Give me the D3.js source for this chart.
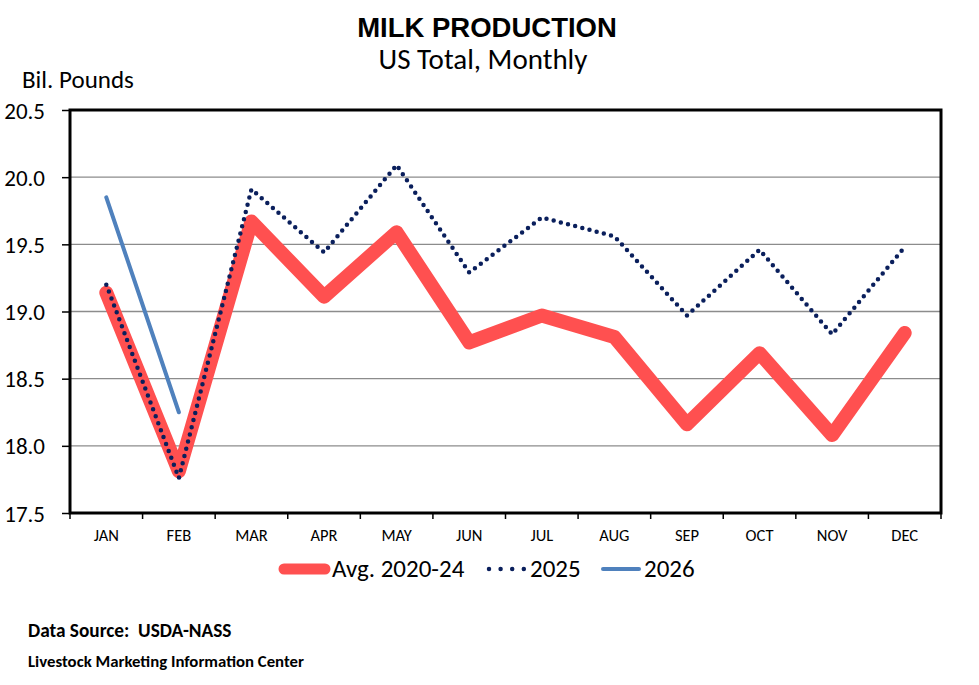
<!DOCTYPE html>
<html><head><meta charset="utf-8">
<script src="https://cdn.jsdelivr.net/npm/d3@7/dist/d3.min.js"></script>
<style>body{margin:0;background:#fff;}svg{display:block;}</style>
</head><body>
<svg id="c" width="979" height="685"></svg>
<script>
const months = ["JAN","FEB","MAR","APR","MAY","JUN","JUL","AUG","SEP","OCT","NOV","DEC"];
const avg2020_24 = [19.14,17.81,19.67,19.11,19.59,18.77,18.97,18.81,18.16,18.69,18.08,18.84];
const y2025 = [19.20,17.76,19.91,19.44,20.09,19.29,19.70,19.56,18.97,19.46,18.83,19.48];
const y2026 = [19.85,18.25];
const yTicks = [17.5,18.0,18.5,19.0,19.5,20.0,20.5];

const svg = d3.select("#c");
const L=70,R=941,T=110,B=513;
const x = d3.scaleBand().domain(months).range([L,R]);
const y = d3.scaleLinear().domain([17.5,20.5]).range([B,T]);
const cx = m => x(m)+x.bandwidth()/2;
const body = "Carlito, Calibri, Lato, 'Open Sans', sans-serif";

// gridlines
svg.append("g").selectAll("line").data(yTicks.slice(1,-1)).join("line")
  .attr("x1",L).attr("x2",R).attr("y1",d=>y(d)).attr("y2",d=>y(d))
  .attr("stroke","#8c8c8c").attr("stroke-width",1.3);

// axes
const yAxis = d3.axisLeft(y).tickValues(yTicks).tickFormat(d3.format(".1f")).tickSize(8).tickPadding(17);
const gy = svg.append("g").attr("transform",`translate(${L},0)`).call(yAxis);
gy.select(".domain").remove();
gy.selectAll(".tick line").attr("stroke","#000").attr("stroke-width",1.5);
gy.selectAll(".tick text").attr("font-family",body).attr("font-size",23).attr("fill","#000").attr("dy","0.35em");

const xAxis = d3.axisBottom(x).tickSize(0).tickPadding(16);
const gx = svg.append("g").attr("transform",`translate(0,${B})`).call(xAxis);
gx.select(".domain").remove();
gx.selectAll(".tick text").attr("font-family",body).attr("font-size",16.5).attr("fill","#000");
// band edge ticks
svg.append("g").selectAll("line").data(months.concat(["_end"])).join("line")
  .attr("x1",(d,i)=>i<12?x(d):R).attr("x2",(d,i)=>i<12?x(d):R)
  .attr("y1",B).attr("y2",B+6).attr("stroke","#000").attr("stroke-width",1.5);

// plot frame
svg.append("rect").attr("x",L).attr("y",T).attr("width",R-L).attr("height",B-T)
  .attr("fill","none").attr("stroke","#000").attr("stroke-width",3);

const line = d3.line().x((d,i)=>cx(months[i])).y(d=>y(d));

svg.append("path").datum(avg2020_24).attr("d",line).attr("fill","none")
  .attr("stroke","#FF5050").attr("stroke-width",14).attr("stroke-linejoin","round").attr("stroke-linecap","round");
svg.append("path").datum(y2025).attr("d",line).attr("fill","none")
  .attr("stroke","#0a1f5c").attr("stroke-width",4.5).attr("stroke-dasharray","0 7.4").attr("stroke-linecap","round");
svg.append("path").datum(y2026).attr("d",line).attr("fill","none")
  .attr("stroke","#4F81BD").attr("stroke-width",4).attr("stroke-linecap","round");

// titles
svg.append("text").attr("x",487).attr("y",37).attr("text-anchor","middle")
  .attr("font-family","'Liberation Sans', Arial, sans-serif").attr("font-weight","bold").attr("font-size",27.5)
  .text("MILK PRODUCTION");
svg.append("text").attr("x",483).attr("y",69).attr("text-anchor","middle")
  .attr("font-family",body).attr("font-size",29).text("US Total, Monthly");
svg.append("text").attr("x",22).attr("y",88)
  .attr("font-family",body).attr("font-size",25).text("Bil. Pounds");

// legend
const leg = svg.append("g");
const ly = 569;
leg.append("line").attr("x1",284).attr("x2",325).attr("y1",ly).attr("y2",ly)
  .attr("stroke","#FF5050").attr("stroke-width",11).attr("stroke-linecap","round");
leg.append("text").attr("x",332).attr("y",ly+8).attr("font-family",body).attr("font-size",25).text("Avg. 2020-24");
leg.append("line").attr("x1",489).attr("x2",524).attr("y1",ly).attr("y2",ly)
  .attr("stroke","#0a1f5c").attr("stroke-width",4.5).attr("stroke-dasharray","0 11.6").attr("stroke-linecap","round");
leg.append("text").attr("x",530).attr("y",ly+8).attr("font-family",body).attr("font-size",25).text("2025");
leg.append("line").attr("x1",603).attr("x2",639).attr("y1",ly).attr("y2",ly)
  .attr("stroke","#4F81BD").attr("stroke-width",4).attr("stroke-linecap","round");
leg.append("text").attr("x",644).attr("y",ly+8).attr("font-family",body).attr("font-size",25).text("2026");

// footer
svg.append("text").attr("x",28).attr("y",637).attr("font-family",body).attr("font-weight","bold")
  .attr("font-size",19.3).attr("xml:space","preserve").text("Data Source:  USDA-NASS");
svg.append("text").attr("x",28).attr("y",667).attr("font-family",body).attr("font-weight","bold")
  .attr("font-size",16.8).text("Livestock Marketing Information Center");
</script>
</body></html>
